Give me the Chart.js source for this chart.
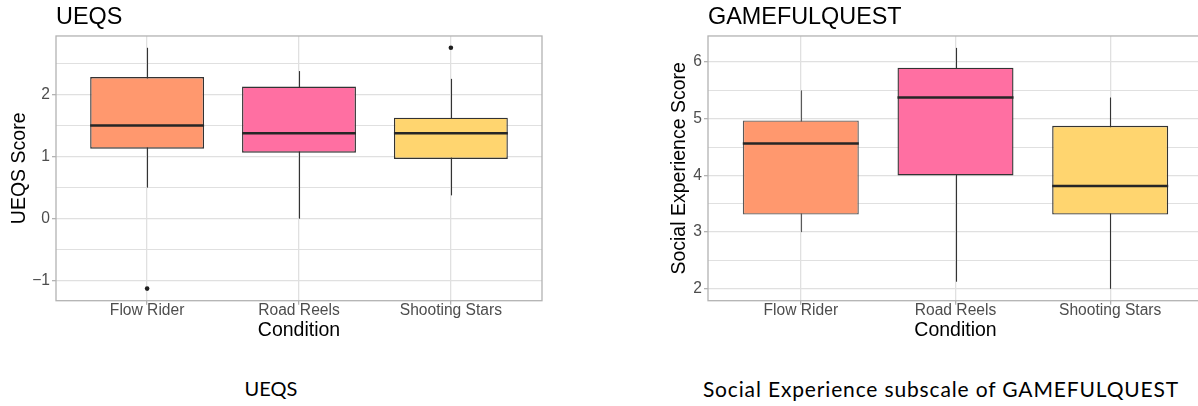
<!DOCTYPE html>
<html>
<head>
<meta charset="utf-8">
<script src="https://cdn.jsdelivr.net/npm/chart.js@4.4.1/dist/chart.umd.min.js"></script>
<style>
  html, body { margin: 0; padding: 0; background: #fff; }
  body { width: 1198px; height: 406px; overflow: hidden; position: relative; }
  .plot { position: absolute; top: 0; }
  #plotA { left: 0; }
  #plotB { left: 640px; }
  .caption {
    position: absolute; top: 378px; white-space: nowrap; line-height: 1;
    font-family: Lato, "Open Sans", sans-serif; font-size: 21px; letter-spacing: 0.85px; color: #000;
    transform: translateX(-50%);
  }
  .caption.short { letter-spacing: 0; font-size: 20px; }
</style>
</head>
<body>
<canvas id="plotA" class="plot" width="560" height="345"></canvas>
<canvas id="plotB" class="plot" width="570" height="345"></canvas>
<div class="caption short" style="left:271px">UEQS</div>
<div class="caption" style="left:941px">Social Experience subscale of GAMEFULQUEST</div>

<script>
// Conditions shown on both panels
const conditions = ['Flow Rider', 'Road Reels', 'Shooting Stars'];

// UEQS box plot statistics per condition
const ueqsLowerWhisker = [0.5, 0, 0.375];
const ueqsQ1           = [1.125, 1.0625, 0.96];
const ueqsMedian       = [1.5, 1.375, 1.375];
const ueqsQ3           = [2.28, 2.125, 1.625];
const ueqsUpperWhisker = [2.75, 2.375, 2.25];
const ueqsOutliers     = [[-1.125], [], [2.75]];
const ueqsYRange       = [-1.32, 2.94];
const ueqsYTicks       = [-1, 0, 1, 2];

// GAMEFULQUEST social experience subscale statistics per condition
const gqLowerWhisker = [3.0, 2.125, 2.0];
const gqQ1           = [3.31, 4.0, 3.31];
const gqMedian       = [4.5625, 5.375, 3.8125];
const gqQ3           = [4.97, 5.9, 4.875];
const gqUpperWhisker = [5.5, 6.25, 5.375];
const gqOutliers     = [[], [], []];
const gqYRange       = [1.79, 6.46];
const gqYTicks       = [2, 3, 4, 5, 6];

const fillColors = ['#FF986E', '#FF6FA2', '#FFD56F'];

const FONT = "'Liberation Sans', Arial, Helvetica, sans-serif";
const GRID = '#E0E0E0';
const FRAME = '#B3B3B3';

// Whiskers under the boxes, median bars and panel frame on top
const boxParts = {
  id: 'boxParts',
  beforeDatasetsDraw(chart, args, o) {
    const {ctx, scales: {x, y}} = chart;
    ctx.save();
    ctx.lineWidth = 1.1;
    o.low.forEach((lo, i) => {
      const px = Math.round(x.getPixelForValue(i + 1)) + 0.5;
      ctx.strokeStyle = o.lineColors[i];
      ctx.beginPath();
      ctx.moveTo(px, y.getPixelForValue(lo));
      ctx.lineTo(px, y.getPixelForValue(o.high[i]));
      ctx.stroke();
    });
    ctx.restore();
  },
  afterDatasetsDraw(chart, args, o) {
    const {ctx, chartArea: a, scales: {y}} = chart;
    const boxes = chart.getDatasetMeta(0).data;
    ctx.save();
    ctx.lineWidth = 2.6;
    o.median.forEach((m, i) => {
      const {x, width} = boxes[i].getProps(['x', 'width'], true);
      const py = y.getPixelForValue(m);
      ctx.strokeStyle = '#262626';
      ctx.beginPath();
      ctx.moveTo(x - width / 2, py);
      ctx.lineTo(x + width / 2, py);
      ctx.stroke();
    });
    ctx.strokeStyle = FRAME;
    ctx.lineWidth = 1.3;
    ctx.strokeRect(a.left, a.top, a.right - a.left, a.bottom - a.top);
    ctx.restore();
  }
};

function halfSteps(lo, hi) {
  const out = [];
  for (let v = Math.ceil(lo * 2) / 2; v <= hi + 1e-9; v += 0.5) out.push({value: v});
  return out;
}

function boxChart(id, cfg) {
  const outlierPts = [];
  cfg.outliers.forEach((list, i) => list.forEach(v => outlierPts.push({x: i + 1, y: v})));
  return new Chart(document.getElementById(id), {
    type: 'bar',
    data: {
      datasets: [{
        type: 'bar',
        data: conditions.map((c, i) => ({x: i + 1, y: [cfg.q1[i], cfg.q3[i]]})),
        backgroundColor: fillColors,
        borderColor: cfg.lineColors,
        borderWidth: 1.4,
        borderSkipped: false,
        categoryPercentage: 1,
        barPercentage: 0.75
      }, {
        type: 'scatter',
        data: outlierPts,
        pointRadius: 2.3,
        pointBackgroundColor: '#1f1f1f',
        pointBorderWidth: 0
      }]
    },
    options: {
      responsive: false,
      animation: false,
      events: [],
      layout: {padding: {left: 0, right: cfg.padRight, top: 0, bottom: 0}},
      scales: {
        x: {
          type: 'linear',
          offset: false,
          min: 0.4, max: 3.6,
          afterBuildTicks: s => { s.ticks = conditions.map((c, i) => ({value: i + 1})); },
          afterFit: s => { s.height = cfg.xAxisHeight; },
          grid: {offset: false, color: GRID, lineWidth: 1.3, drawTicks: true, tickLength: 4, tickColor: FRAME},
          border: {display: false},
          ticks: {
            autoSkip: false, maxRotation: 0, padding: -1.5,
            color: '#4D4D4D', font: {family: FONT, size: 15.6, lineHeight: 1},
            callback: v => conditions[Math.round(v) - 1]
          },
          title: {display: true, text: 'Condition', color: '#000',
                  font: {family: FONT, size: 19.5}, padding: {top: 0, bottom: 2.8}}
        },
        y: {
          type: 'linear',
          min: cfg.yRange[0], max: cfg.yRange[1],
          afterBuildTicks: s => { s.ticks = halfSteps(cfg.yRange[0], cfg.yRange[1]); },
          afterFit: s => { s.width = cfg.yAxisWidth; },
          grid: {
            color: GRID,
            lineWidth: c => (cfg.yTicks.includes(c.tick && c.tick.value) ? 1.3 : 1.0),
            drawTicks: true, tickLength: 4,
            tickColor: c => (cfg.yTicks.includes(c.tick && c.tick.value) ? FRAME : 'rgba(0,0,0,0)')
          },
          border: {display: false},
          ticks: {
            padding: 2, color: '#4D4D4D', font: {family: FONT, size: 15.6},
            callback: v => (cfg.yTicks.includes(v) ? String(v).replace('-', '\u2212') : '')
          },
          title: {display: true, text: cfg.yTitle, color: '#000',
                  font: {family: FONT, size: 19.5}, padding: {top: cfg.yTitlePad, bottom: 0}}
        }
      },
      plugins: {
        legend: {display: false},
        tooltip: {enabled: false},
        title: {
          display: true, text: cfg.title, align: 'start', fullSize: false, color: '#000',
          font: {family: FONT, size: 23.4, weight: 'normal'}, padding: {top: 3.5, bottom: 4.4}
        },
        boxParts: {low: cfg.low, high: cfg.high, median: cfg.median, lineColors: cfg.lineColors}
      }
    },
    plugins: [boxParts]
  });
}

boxChart('plotA', {
  title: 'UEQS', yTitle: 'UEQS Score',
  low: ueqsLowerWhisker, q1: ueqsQ1, median: ueqsMedian, q3: ueqsQ3, high: ueqsUpperWhisker,
  outliers: ueqsOutliers, yRange: ueqsYRange, yTicks: ueqsYTicks,
  lineColors: ['#333333', '#333333', '#333333'],
  yAxisWidth: 56, yTitlePad: 7.8, xAxisHeight: 44.3, padRight: 18
});

boxChart('plotB', {
  title: 'GAMEFULQUEST', yTitle: 'Social Experience Score',
  low: gqLowerWhisker, q1: gqQ1, median: gqMedian, q3: gqQ3, high: gqUpperWhisker,
  outliers: gqOutliers, yRange: gqYRange, yTicks: gqYTicks,
  lineColors: ['#5a5a5a', '#333333', '#333333'],
  yAxisWidth: 68, yTitlePad: 28.3, xAxisHeight: 44.3, padRight: 7
});
</script>
</body>
</html>
